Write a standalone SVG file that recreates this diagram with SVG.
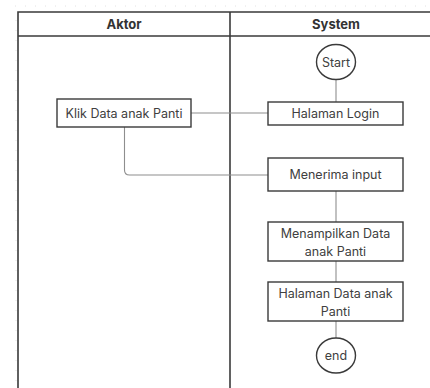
<svg xmlns="http://www.w3.org/2000/svg" width="430" height="388" viewBox="0 0 430 388">
<style>
.lane{fill:none;stroke:#3a3a3a;stroke-width:1.6}
.box{fill:#ffffff;stroke:#3a3a3a;stroke-width:1.4}
.conn{fill:none;stroke:#8e8e8e;stroke-width:1.1}
.hd{font-family:Inter,"Liberation Sans",sans-serif;font-size:13px;font-weight:700;fill:#333;text-anchor:middle}
.tx{font-family:Inter,"Liberation Sans",sans-serif;font-size:12.5px;fill:#404040;text-anchor:middle}
.tick{stroke:#e2e2e2;stroke-width:1;stroke-dasharray:1 9;fill:none}
</style>
<rect width="430" height="388" fill="#ffffff"/>
<path class="tick" d="M15 6 H430"/>
<path class="tick" d="M16 20 V388"/>
<g id="lanes">
<path class="lane" d="M18 388 V12 H430"/>
<path class="lane" d="M18 36 H430"/>
<path class="lane" d="M230 12 V388"/>
<text class="hd" x="124" y="28.5">Aktor</text>
<text class="hd" x="336" y="28.5">System</text>
</g>
<g id="connectors">
<path class="conn" d="M336 80 V102"/>
<path class="conn" d="M191 113 H268"/>
<path class="conn" d="M124.5 127 V170 Q124.5 175 129.5 175 H268"/>
<path class="conn" d="M336 191 V222"/>
<path class="conn" d="M336 261 V282"/>
<path class="conn" d="M336 321 V338"/>
</g>
<g id="start">
<ellipse class="box" cx="336" cy="62" rx="19.5" ry="17.5"/>
<text class="tx" x="336" y="66.5">Start</text>
</g>
<g id="klik">
<rect class="box" x="57" y="99" width="134" height="28"/>
<text class="tx" x="124" y="117.5">Klik Data anak Panti</text>
</g>
<g id="login">
<rect class="box" x="268" y="102" width="135" height="23"/>
<text class="tx" x="335.5" y="118">Halaman Login</text>
</g>
<g id="input">
<rect class="box" x="268" y="158" width="135" height="33"/>
<text class="tx" x="335.5" y="179">Menerima input</text>
</g>
<g id="menampilkan">
<rect class="box" x="268" y="222" width="135" height="39"/>
<text class="tx" x="335.5" y="237.5">Menampilkan Data</text>
<text class="tx" x="335.5" y="255.5">anak Panti</text>
</g>
<g id="halaman-data">
<rect class="box" x="268" y="282" width="135" height="39"/>
<text class="tx" x="335.5" y="297.5">Halaman Data anak</text>
<text class="tx" x="335.5" y="315.5">Panti</text>
</g>
<g id="end">
<ellipse class="box" cx="336" cy="355.5" rx="19.5" ry="17.5"/>
<text class="tx" x="336" y="360">end</text>
</g>
</svg>
